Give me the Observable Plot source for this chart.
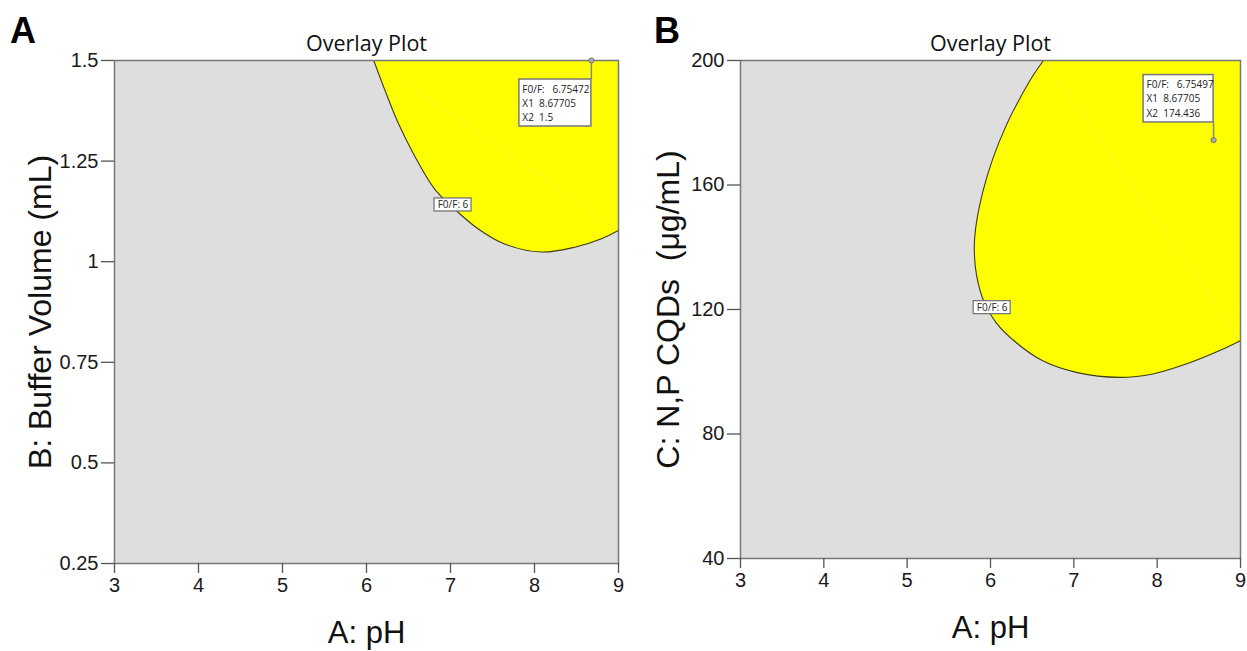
<!DOCTYPE html>
<html>
<head>
<meta charset="utf-8">
<script src="https://cdn.jsdelivr.net/npm/d3@7"></script>
<script src="https://cdn.jsdelivr.net/npm/@observablehq/plot@0.6"></script>
<style>
  html, body { margin: 0; padding: 0; background: #fff; }
  #root { position: relative; width: 1247px; height: 651px; overflow: hidden; background: #fff; }
  .panel { position: absolute; top: 0; }
  .letter { position: absolute; font-family: "Liberation Sans", Arial, sans-serif; font-weight: bold; font-size: 36px; line-height: 36px; color: #000; }
</style>
</head>
<body>
<div id="root">
  <div class="letter" style="left:10px; top:13px;">A</div>
  <div class="letter" style="left:654px; top:13px;">B</div>
</div>
<script>
// ---------- data ----------
const phTicks = [3, 4, 5, 6, 7, 8, 9];
const bufferTicks = [0.25, 0.5, 0.75, 1, 1.25, 1.5];
const cqdTicks = [40, 80, 120, 160, 200];

// F0/F = 6 contour, panel A (pH vs buffer volume)
const contourA_pH     = [6.086, 6.212, 6.372, 6.570, 6.809, 7.047, 7.327, 7.644, 8.082, 8.479, 8.797, 9.0];
const contourA_buffer = [1.5,   1.430, 1.347, 1.264, 1.181, 1.131, 1.082, 1.044, 1.024, 1.036, 1.057, 1.078];

// F0/F = 6 contour, panel B (pH vs N,P CQDs)
const contourB_pH  = [6.635, 6.507, 6.346, 6.186, 6.026, 5.906, 5.826, 5.805, 5.834, 5.925, 6.066, 6.307, 6.627, 7.028, 7.549, 7.950, 8.350, 8.751, 9.0];
const contourB_cqd = [200,   195.0, 187.5, 179.0, 168.3, 157.6, 146.9, 139.4, 130.8, 122.3, 115.8, 109.4, 103.5, 99.8,  98.2,  99.3,  102.5, 106.8, 110.0];

// optimum flags
const optA = {x: 8.67705, y: 1.5,     f: "6.75472", x1: "8.67705", x2: "1.5"};
const optB = {x: 8.67705, y: 174.436, f: "6.75497", x1: "8.67705", x2: "174.436"};

// contour level labels
const levelLabel = "F0/F: 6";
const levelA = {x: 7.03, y: 1.141};
const levelB = {x: 6.02, y: 120.6};

const titleText = "Overlay Plot";
const xLabel = "A: pH";
const yLabelA = "B: Buffer Volume (mL)";
const yLabelB = "C: N,P CQDs  (\u03bcg/mL)";

// ---------- styles ----------
const YELLOW = "#ffff00";
const BG = "#dedede";
const CONTOUR = "#3d3d10";
const FRAME = "#777777";
const SANS = "'Liberation Sans', Arial, sans-serif";
const UI = "'Open Sans', 'Noto Sans', sans-serif";

function zip(xs, ys) { return xs.map((x, i) => ({x, y: ys[i]})); }

function flagText(o) {
  return `F0/F:\u00a0\u00a0 ${o.f}\nX1\u00a0 ${o.x1}\nX2\u00a0 ${o.x2}`;
}

function panel({width, marginLeft, marginRight, marginBottom, xDomain, yDomain, yTicks, contour, opt, optBox, level, yLabel, yLabelDx}) {
  const first = contour[0], last = contour[contour.length - 1];
  const corner = {x: xDomain[1], y: yDomain[1]};
  return Plot.plot({
    width, height: 651,
    marginLeft, marginRight, marginTop: 60, marginBottom,
    style: {background: "transparent", color: "#1a1a1a", overflow: "visible"},
    x: {domain: xDomain},
    y: {domain: yDomain},
    marks: [
      Plot.frame({fill: BG}),
      Plot.line(contour, {x: "x", y: "y", fill: YELLOW, stroke: "none", curve: "catmull-rom", clip: true}),
      Plot.line([first, corner, last], {x: "x", y: "y", fill: YELLOW, stroke: YELLOW, strokeWidth: 1, clip: true}),
      Plot.line(contour, {x: "x", y: "y", stroke: CONTOUR, strokeWidth: 1.1, curve: "catmull-rom", clip: true}),
      Plot.frame({stroke: FRAME, strokeWidth: 1.5}),
      Plot.axisX({ticks: phTicks, tickSize: 10, tickPadding: 4, fontSize: 20, fontFamily: SANS, stroke: "#555", strokeWidth: 1.3, label: null, tickFormat: d => String(d)}),
      Plot.axisY({ticks: yTicks, tickSize: 13, tickPadding: 3, fontSize: 20, fontFamily: SANS, stroke: "#555", strokeWidth: 1.3, label: null, tickFormat: d => String(d)}),
      Plot.text([titleText], {frameAnchor: "top", text: d => d, dy: -16, lineAnchor: "middle", textAnchor: "middle", fontSize: 21.5, fontFamily: UI, fill: "#111"}),
      Plot.text([xLabel], {frameAnchor: "bottom", text: d => d, dy: 70, lineAnchor: "middle", textAnchor: "middle", fontSize: 31, fontFamily: SANS, fill: "#111"}),
      Plot.text([yLabel], {frameAnchor: "left", text: d => d, dx: yLabelDx, rotate: -90, lineAnchor: "middle", textAnchor: "middle", fontSize: 32, fontFamily: SANS, fill: "#111"}),
      // optimum flag
      Plot.ruleX([opt], {x: "x", y1: "y", y2: "y", stroke: "#888", strokeWidth: 1.5, insetTop: optBox.ruleTop, insetBottom: optBox.ruleBottom}),
      Plot.rect([opt], {x1: "x", x2: "x", y1: "y", y2: "y", fill: "#fff", stroke: FRAME, strokeWidth: 1.5,
        insetLeft: optBox.left, insetRight: optBox.right, insetTop: optBox.top, insetBottom: optBox.bottom}),
      Plot.text([opt], {x: "x", y: "y", text: flagText, textAnchor: "start", lineAnchor: "top", dx: optBox.tdx, dy: optBox.tdy,
        fontSize: 10, lineHeight: 1.42, fontFamily: UI, fill: "#222"}),
      Plot.dot([opt], {x: "x", y: "y", r: 2.6, fill: "#aaa", stroke: "#777", strokeWidth: 1}),
      // contour level label
      Plot.rect([level], {x1: "x", x2: "x", y1: "y", y2: "y", fill: "#fff", stroke: FRAME, strokeWidth: 1.3,
        insetLeft: -18.5, insetRight: -18.5, insetTop: -6.5, insetBottom: -6.5}),
      Plot.text([level], {x: "x", y: "y", text: () => levelLabel, fontSize: 10, fontFamily: UI, fill: "#222"})
    ]
  });
}

const root = document.getElementById("root");

const a = panel({
  width: 623, marginLeft: 114, marginRight: 5, marginBottom: 88,
  xDomain: [3, 9], yDomain: [0.25, 1.5], yTicks: bufferTicks,
  contour: zip(contourA_pH, contourA_buffer), opt: optA,
  optBox: {left: -72, right: 0, top: 19, bottom: -66, ruleTop: 0, ruleBottom: -19, tdx: -69, tdy: 22},
  level: levelA, yLabel: yLabelA, yLabelDx: -74
});
a.classList.add("panel");
a.style.left = "0px";
root.appendChild(a);

const b = panel({
  width: 624, marginLeft: 117, marginRight: 7, marginBottom: 93,
  xDomain: [3, 9], yDomain: [40, 200], yTicks: cqdTicks,
  contour: zip(contourB_pH, contourB_cqd), opt: optB,
  optBox: {left: -70, right: 0, top: -65, bottom: 17.6, ruleTop: -17.6, ruleBottom: 0, tdx: -67, tdy: -62},
  level: levelB, yLabel: yLabelB, yLabelDx: -72
});
b.classList.add("panel");
b.style.left = "623px";
root.appendChild(b);
</script>
</body>
</html>
